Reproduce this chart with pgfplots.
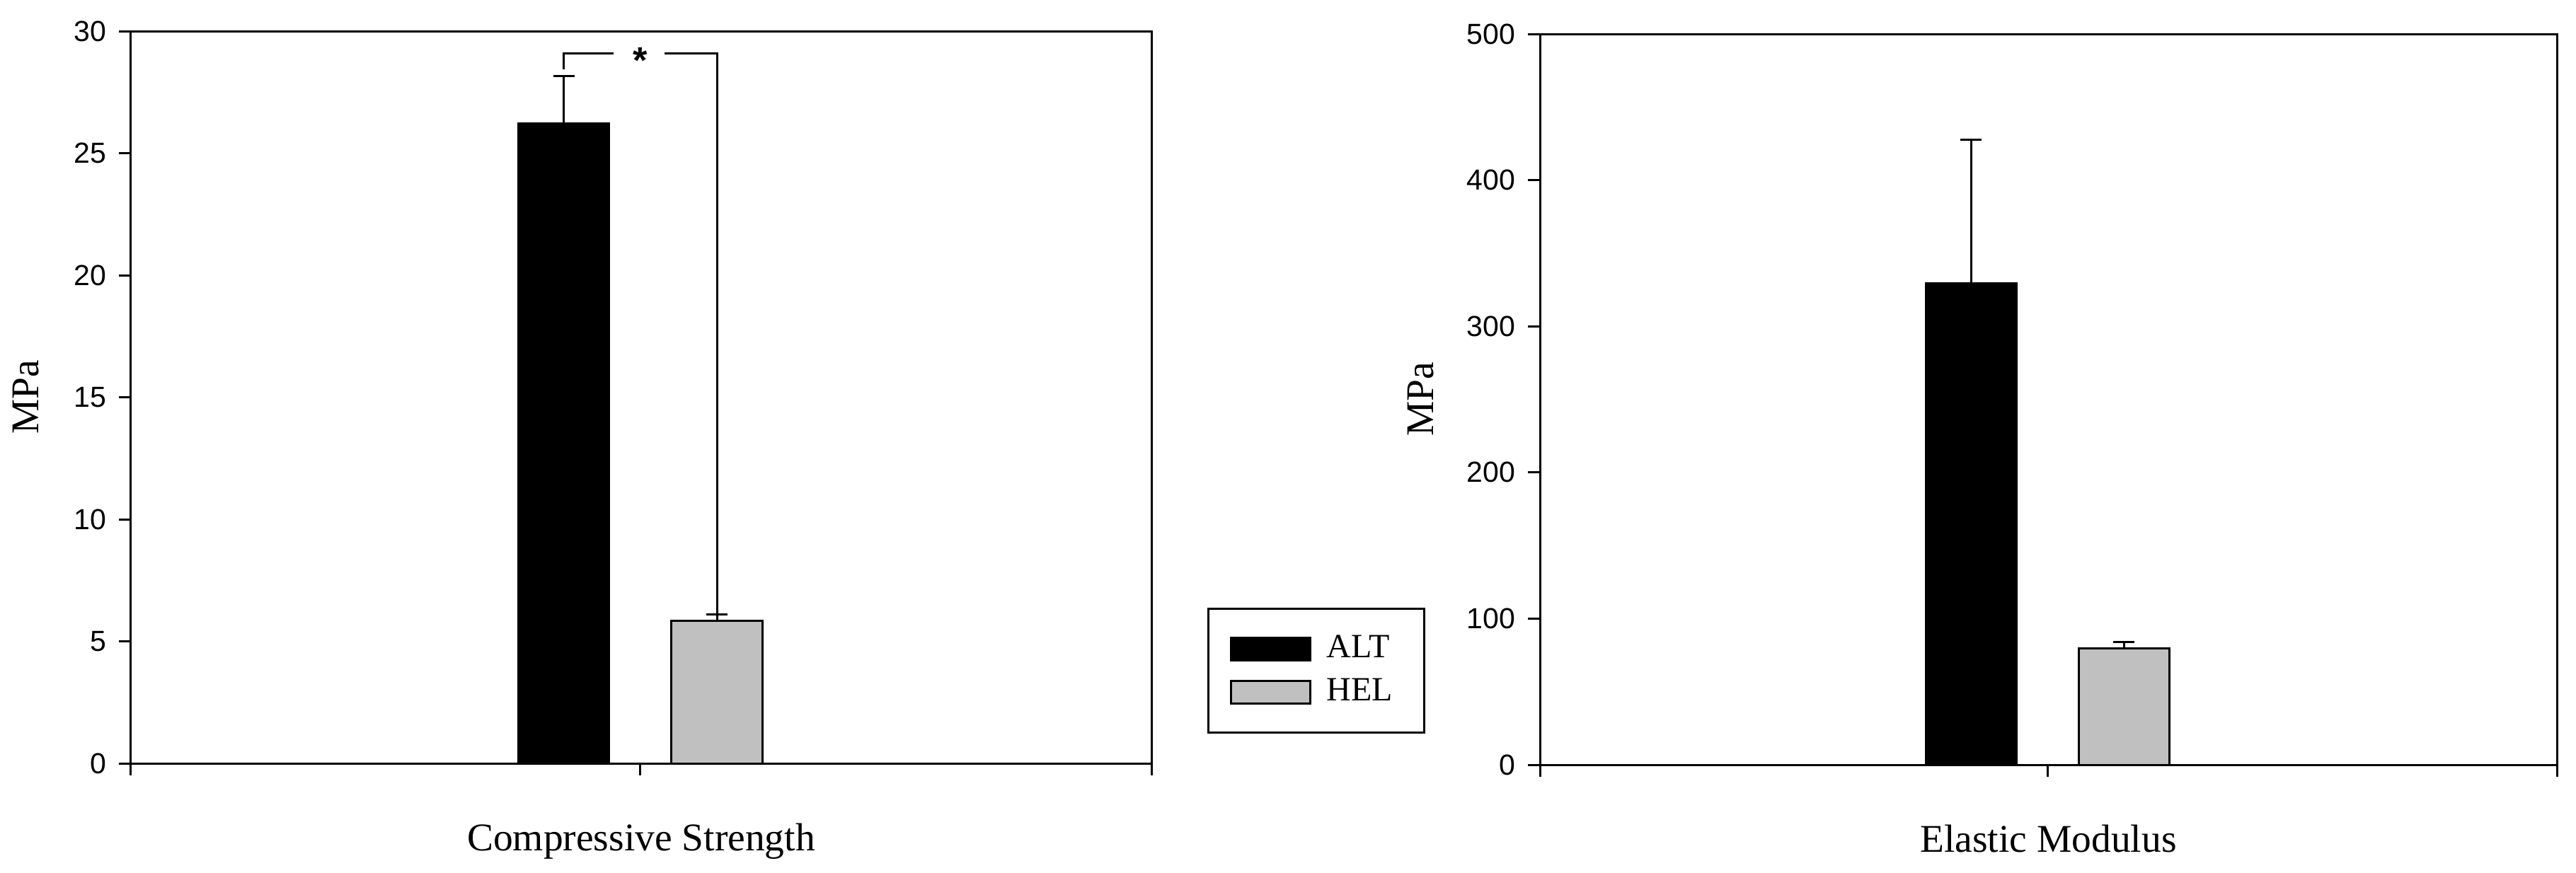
\documentclass[border=0pt]{standalone}
\usepackage{fontspec}
\setmainfont{Liberation Serif}
\newfontfamily\arial{Liberation Sans}
\usepackage{pgfplots}
\pgfplotsset{compat=1.18}
\definecolor{helgray}{RGB}{192,192,192}

\pgfplotsset{
  panel/.style={
    scale only axis,
    xmin=-3.32, xmax=3.33,
    ymin=0,
    axis line style={line width=0.6pt},
    every tick/.style={black, line width=0.6pt},
    tick align=outside,
    major tick length=3.4pt,
    xtick pos=bottom, ytick pos=left,
    xtick={-3.32,0,3.33}, xticklabels={},
    ticklabel style={font=\arial\fontsize{8.2}{9.5}\selectfont},
    /pgf/number format/assume math mode=true,
    label style={font=\fontsize{11.1}{13}\selectfont},
    xlabel style={at={(axis description cs:0.5,0)}, anchor=base, yshift=-24.6pt},
  },
  errb/.style={
    error bars/y dir=plus, error bars/y explicit,
    error bars/error bar style={line width=0.6pt},
    error bars/error mark options={rotate=90, line width=0.6pt, mark size=3pt},
  },
  altbar/.style={ybar, bar width=0.594, bar shift=0pt, fill=black, draw=black, line width=0.6pt, errb,
    legend image code/.code={\draw[fill=black,draw=black,line width=0.6pt] (0pt,-3.2pt) rectangle (22.4pt,3.2pt);}},
  helbar/.style={ybar, bar width=0.594, bar shift=0pt, fill=helgray, draw=black, line width=0.6pt, errb,
    legend image code/.code={\draw[fill=helgray,draw=black,line width=0.6pt] (0pt,-3.2pt) rectangle (22.4pt,3.2pt);}},
}

\begin{document}
\begin{tikzpicture}
\path[use as bounding box] (0,0) rectangle (728pt,246.6pt);

% compressive strength
\begin{axis}[panel,
    at={(37pt,30.8pt)}, anchor=south west,
    width=288.4pt, height=207pt,
    ymax=30, ytick={0,5,...,30},
    xlabel={Compressive Strength},
    ylabel={MPa},
    ylabel style={at={(axis description cs:-0.1026,0.5)}, anchor=center},
    legend style={at={(1.0548,0.0406)}, anchor=south west,
      draw=black, line width=0.6pt,
      font=\fontsize{9.6}{11}\selectfont,
      inner xsep=6pt, inner ysep=5.3pt, row sep=0pt,
      cells={anchor=west},
      nodes={inner sep=0pt, minimum height=12.2pt},
      /tikz/every odd column/.append style={column sep=4.4pt}},
]
\addplot[altbar] coordinates {(-0.5,26.23) +- (0,1.94)};
\addlegendentry{\makebox[21.6pt][l]{ALT}}
\addplot[helbar] coordinates {(0.5,5.85) +- (0,0.25)};
\addlegendentry{\makebox[21.6pt][l]{HEL}}
% significance bracket
\addplot[black, line width=0.6pt, forget plot] coordinates {(-0.5,28.43) (-0.5,29.08) (-0.175,29.08)};
\addplot[black, line width=0.6pt, forget plot] coordinates {(0.157,29.08) (0.5,29.08) (0.5,6.1)};
\node[font=\arial\bfseries\fontsize{10.5}{12}\selectfont, yshift=-2pt] at (axis cs:0,29.08) {*};
\end{axis}

% elastic modulus
\begin{axis}[panel,
    at={(435.2pt,30.4pt)}, anchor=south west,
    width=287.4pt, height=206.6pt,
    ymax=500, ytick={0,100,...,500},
    xlabel={Elastic Modulus},
    ylabel={MPa},
    ylabel style={at={(axis description cs:-0.117,0.5)}, anchor=center},
]
\addplot[altbar] coordinates {(-0.5,329.5) +- (0,98.2)};
\addplot[helbar] coordinates {(0.5,79.4) +- (0,4.5)};
\end{axis}
\end{tikzpicture}
\end{document}
